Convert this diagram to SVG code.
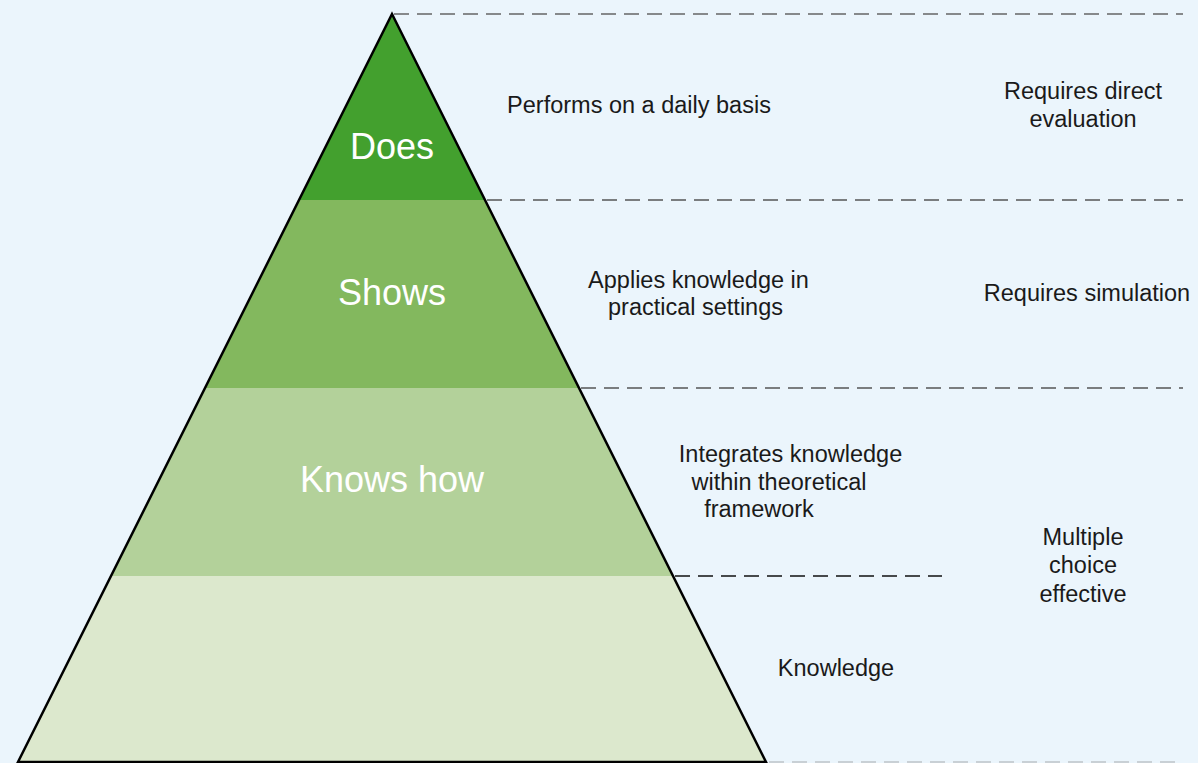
<svg xmlns="http://www.w3.org/2000/svg" width="1198" height="763" viewBox="0 0 1198 763">
<style>
.lbl{font-family:"Liberation Sans",Arial,sans-serif;font-size:36px;fill:#ffffff;text-anchor:middle}
.txt{font-family:"Liberation Sans",Arial,sans-serif;font-size:23.5px;fill:#1a1a1a;text-anchor:middle}
.dash{fill:none;stroke-width:1.3;stroke-dasharray:15 8}
</style>
<rect width="1198" height="763" fill="#EBF5FC"/>
<g id="connectors">
<line class="dash" x1="394" y1="14" x2="1183" y2="14" stroke="#666666"/>
<line class="dash" x1="487" y1="200" x2="1183" y2="200" stroke="#555555"/>
<line class="dash" x1="581" y1="388" x2="1183" y2="388" stroke="#555555"/>
<line class="dash" x1="675" y1="576" x2="942" y2="576" stroke="#111111"/>
<line class="dash" x1="769" y1="762" x2="1183" y2="762" stroke="#bfc4c8" stroke-width="2.5"/>
</g>
<g id="level-knows">
<polygon points="111,576 673,576 766,762 18,762" fill="#DCE8CD"/>
</g>
<g id="level-knowshow">
<polygon points="205,388 579,388 673,576 111,576" fill="#B3D19A"/>
<text class="lbl" x="392" y="492">Knows how</text>
</g>
<g id="level-shows">
<polygon points="299,200 485,200 579,388 205,388" fill="#83B85E"/>
<text class="lbl" x="392" y="305">Shows</text>
</g>
<g id="level-does">
<polygon points="392,14 485,200 299,200" fill="#43A02E"/>
<text class="lbl" x="392" y="159">Does</text>
</g>
<g id="outline">
<polygon points="392,14 766,762 18,762" fill="none" stroke="#000000" stroke-width="2.5" stroke-linejoin="miter"/>
</g>
<g id="desc-does"><text class="txt" x="639" y="113">Performs on a daily basis</text></g>
<g id="desc-shows"><text class="txt" x="698.5" y="288">Applies knowledge in</text><text class="txt" x="695.5" y="315">practical settings</text></g>
<g id="desc-knowshow"><text class="txt" x="790.5" y="462">Integrates knowledge</text><text class="txt" x="779" y="490">within theoretical</text><text class="txt" x="759" y="517">framework</text></g>
<g id="desc-knows"><text class="txt" x="836" y="676">Knowledge</text></g>
<g id="eval-does"><text class="txt" x="1083" y="99">Requires direct</text><text class="txt" x="1083" y="127">evaluation</text></g>
<g id="eval-shows"><text class="txt" x="1087" y="301">Requires simulation</text></g>
<g id="eval-knows"><text class="txt" x="1083" y="545">Multiple</text><text class="txt" x="1083" y="573">choice</text><text class="txt" x="1083" y="602">effective</text></g>
</svg>
